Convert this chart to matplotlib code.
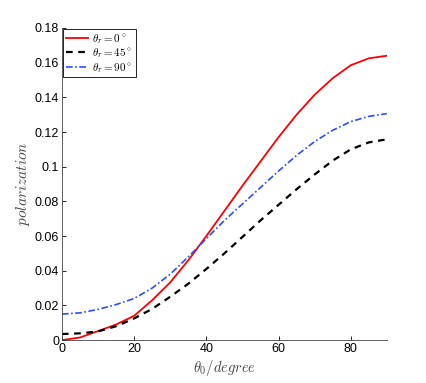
import numpy as np
import matplotlib.pyplot as plt

# incidence angle (deg)
theta0 = [0, 5, 10, 15, 20, 25, 30, 35, 40, 45, 50, 55, 60, 65, 70, 75, 80, 85, 90]

# polarization
pol_0 = [0.0, 0.0015, 0.0052, 0.009, 0.0140, 0.023, 0.0333, 0.046, 0.060, 0.0745,
         0.089, 0.103, 0.117, 0.130, 0.1415, 0.151, 0.1585, 0.1625, 0.164]
pol_45 = [0.0035, 0.0039, 0.005, 0.008, 0.0125, 0.018, 0.025, 0.0325, 0.041, 0.050,
          0.0595, 0.069, 0.078, 0.087, 0.0955, 0.1035, 0.1100, 0.1140, 0.1158]
pol_90 = [0.015, 0.0157, 0.0177, 0.0205, 0.024, 0.030, 0.038, 0.048, 0.0585, 0.069,
          0.0785, 0.088, 0.0975, 0.1065, 0.1145, 0.1210, 0.1260, 0.1290, 0.1306]

plt.rcParams['mathtext.fontset'] = 'cm'
plt.rcParams['font.family'] = 'Liberation Sans'

fig = plt.figure(figsize=(4.27, 3.83), dpi=100)
ax = fig.add_axes([0.145, 0.112, 0.761, 0.815])

ax.plot(theta0, pol_0, color='red', linewidth=1.3, label=r'$\theta_r=0^\circ$')
ax.plot(theta0, pol_45, color='black', linestyle=(0, (3, 2.5)), linewidth=1.6,
        label=r'$\theta_r=45^\circ$')
ax.plot(theta0, pol_90, color='#2b4cff', linestyle=(0, (4, 1.5, 1, 1.5)), linewidth=1.2,
        label=r'$\theta_r=90^\circ$')

ax.set_xlim(0, 90)
ax.set_ylim(0, 0.18)
ax.set_xticks([0, 20, 40, 60, 80])
ax.set_yticks(np.arange(0, 0.181, 0.02))
ax.set_yticklabels(['0', '0.02', '0.04', '0.06', '0.08', '0.1', '0.12', '0.14', '0.16', '0.18'])
ax.tick_params(direction='in', length=3, width=0.6, labelsize=9, pad=2)

ax.spines['top'].set_visible(False)
ax.spines['right'].set_visible(False)
for s in ['left', 'bottom']:
    ax.spines[s].set_linewidth(0.6)
    ax.spines[s].set_color('#444444')

ax.set_xlabel(r'$\theta_0/degree$', fontsize=10.5, color='#444444', labelpad=2)
ax.set_ylabel(r'$polarization$', fontsize=11, color='#444444', labelpad=2)

leg = ax.legend(loc='upper left', fontsize=8, fancybox=False, framealpha=1,
                borderaxespad=0.1, handlelength=2.0, handletextpad=0.4,
                labelspacing=0.05, borderpad=0.25)
leg.get_frame().set_edgecolor('black')
leg.get_frame().set_linewidth(0.6)

fig.savefig('out.png', dpi=100)
